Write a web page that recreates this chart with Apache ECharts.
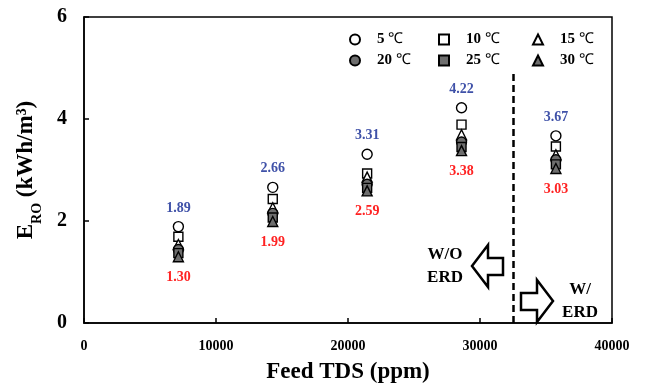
<!DOCTYPE html>
<html><head><meta charset="utf-8">
<script src="https://cdn.jsdelivr.net/npm/echarts@6/dist/echarts.min.js"></script>
<style>html,body{margin:0;padding:0;background:#fff}#c{width:646px;height:389px}</style>
</head><body><div id="c"></div>
<script>
var feedTDS = [7150, 14300, 21450, 28600, 35750];
var e5  = [1.89, 2.66, 3.31, 4.22, 3.67];
var e10 = [1.69, 2.43, 2.93, 3.89, 3.46];
var e15 = [1.54, 2.26, 2.86, 3.69, 3.30];
var e20 = [1.44, 2.15, 2.72, 3.55, 3.20];
var e25 = [1.37, 2.07, 2.65, 3.45, 3.11];
var e30 = [1.30, 1.99, 2.59, 3.38, 3.03];
var names = ['5 ℃', '10 ℃', '15 ℃', '20 ℃', '25 ℃', '30 ℃'];
var yTicks = [0, 2, 4, 6];
var xTicks = [0, 10000, 20000, 30000, 40000];
var erdBoundary = 32500;

var F = '"Liberation Serif","Times New Roman",serif';
function pts(arr){ return feedTDS.map(function(x,i){ return [x, arr[i]]; }); }
function mk(name, arr, symbol, size, filled, extra){
  var s = {
    name: name, type: 'scatter', data: pts(arr), symbol: symbol, symbolSize: size,
    itemStyle: { color: filled ? '#6e6e6e' : '#ffffff', borderColor: '#000', borderWidth: 1.4, opacity: 1 },
    emphasis: { disabled: true }
  };
  for (var k in extra) s[k] = extra[k];
  return s;
}
var chart = echarts.init(document.getElementById('c'));
var legendText = {
  fontFamily: F, fontSize: 15, color: '#000', padding: [0,0,0,12],
  rich: { n: { fontFamily: F, fontSize: 15, fontWeight: 'bold' }, c: { fontFamily: F, fontSize: 15, fontWeight: 'normal' } }
};
function fmt(name){ var p = name.split(' '); return '{n|' + p[0] + '} {c|' + p[1] + '}'; }
function leg(left, items){
  return { orient: 'vertical', left: left, top: 27, itemGap: 6, itemWidth: 10, itemHeight: 10,
    data: items, textStyle: legendText, formatter: fmt, selectedMode: false };
}
chart.setOption({
  animation: false,
  grid: { left: 84, right: 34, top: 17, bottom: 61, show: true, borderColor: '#000', borderWidth: 1.5 },
  legend: [ leg(344, [names[0], names[3]]), leg(433, [names[1], names[4]]), leg(527, [names[2], names[5]]) ],
  xAxis: {
    type: 'value', min: xTicks[0], max: xTicks[xTicks.length-1], interval: 10000,
    name: 'Feed TDS (ppm)', nameLocation: 'middle', nameGap: 38,
    nameTextStyle: { fontFamily: F, fontSize: 23, fontWeight: 'bold', color: '#000' },
    axisLine: { lineStyle: { color: '#000', width: 1.5 } },
    axisTick: { inside: true, length: 5, lineStyle: { color: '#000', width: 1.5 } },
    axisLabel: { fontFamily: F, fontSize: 14, fontWeight: 'bold', color: '#000', margin: 16,
      formatter: function(v){ return String(v); } },
    splitLine: { show: false }
  },
  yAxis: {
    type: 'value', min: yTicks[0], max: yTicks[yTicks.length-1], interval: 2,
    name: '{m|E}{s|RO}{m| (kWh/m³)}', nameLocation: 'middle', nameGap: 46, nameRotate: 90,
    nameTextStyle: { fontFamily: F, fontSize: 23, fontWeight: 'bold', color: '#000',
      rich: { m: { fontFamily: F, fontSize: 23, fontWeight: 'bold', color: '#000', verticalAlign: 'bottom', lineHeight: 24 },
              s: { fontFamily: F, fontSize: 14, fontWeight: 'bold', color: '#000', verticalAlign: 'bottom', lineHeight: 24, padding: [0,0,-6,0] } } },
    axisLine: { lineStyle: { color: '#000', width: 1.5 } },
    axisTick: { inside: true, length: 5, lineStyle: { color: '#000', width: 1.5 } },
    axisLabel: { fontFamily: F, fontSize: 20, fontWeight: 'bold', color: '#000', margin: 17, padding: [0,0,0,0] },
    splitLine: { show: false }
  },
  series: [
    mk(names[0], e5, 'circle', 10, false, {
      label: { show: true, position: 'top', distance: 6, color: '#3f51a8', fontFamily: F, fontSize: 14, fontWeight: 'bold',
        formatter: function(p){ return p.value[1].toFixed(2); } },
      markLine: { silent: true, symbol: 'none', label: { show: false },
        lineStyle: { color: '#000', type: [7,4], width: 2.5 },
        data: [[ { coord: [erdBoundary, 0] }, { coord: [erdBoundary, 4.95] } ]] }
    }),
    mk(names[1], e10, 'rect', 9, false, {}),
    mk(names[2], e15, 'triangle', 10, false, {}),
    mk(names[3], e20, 'circle', 10, true, {}),
    mk(names[4], e25, 'rect', 9, true, {}),
    mk(names[5], e30, 'triangle', 10, true, {
      label: { show: true, position: 'bottom', distance: 8, color: '#ff2222', fontFamily: F, fontSize: 14, fontWeight: 'bold',
        formatter: function(p){ return p.value[1].toFixed(2); } }
    })
  ],
  graphic: [
    { type: 'polygon', shape: { points: [[472,266],[488,245],[488,258],[503,258],[503,275],[488,275],[488,287]] },
      style: { fill: '#fff', stroke: '#000', lineWidth: 2.5 } },
    { type: 'polygon', shape: { points: [[553,301],[537,280],[537,293],[521,293],[521,310],[537,310],[537,322]] },
      style: { fill: '#fff', stroke: '#000', lineWidth: 2.5 } },
    { type: 'text', style: { text: 'W/O\nERD', x: 445, y: 266, align: 'center', verticalAlign: 'middle', lineHeight: 23,
      font: 'bold 17px ' + F, fill: '#000' } },
    { type: 'text', style: { text: 'W/\nERD', x: 580, y: 301, align: 'center', verticalAlign: 'middle', lineHeight: 23,
      font: 'bold 17px ' + F, fill: '#000' } }
  ]
});
</script></body></html>
